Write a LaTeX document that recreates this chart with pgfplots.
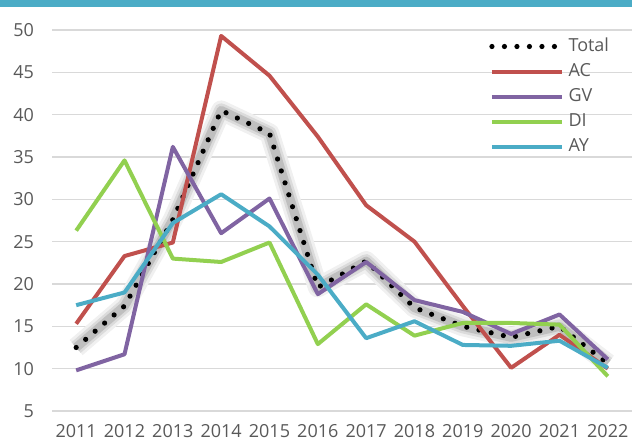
\documentclass[border=0pt]{standalone}
\usepackage{pgfplots}
\usepackage{pgfplotstable}
\pgfplotsset{compat=1.18}
\usepackage{fontspec}
\setmainfont{Open Sans}
\definecolor{acc}{HTML}{C0504D}
\definecolor{gvc}{HTML}{8064A2}
\definecolor{dic}{HTML}{92D050}
\definecolor{ayc}{HTML}{4BACC6}
\definecolor{txt}{HTML}{595959}
\definecolor{grd}{HTML}{D9D9D9}
\pgfplotstableread{
year Total AC GV DI AY
2011 12.5 15.3 9.8 26.3 17.5
2012 17.4 23.3 11.7 34.6 19.0
2013 27.6 24.9 36.2 23.0 27.2
2014 40.5 49.3 26.0 22.6 30.6
2015 37.8 44.6 30.1 24.9 26.8
2016 19.6 37.4 18.8 12.9 21.1
2017 22.7 29.3 22.6 17.6 13.6
2018 17.2 25.0 18.1 13.9 15.6
2019 15.0 17.4 16.7 15.4 12.8
2020 13.7 10.1 14.1 15.4 12.7
2021 15.0 14.0 16.4 15.2 13.3
2022 10.6 10.0 11.1 9.1 10.1
}\datatable
\begin{document}
\begin{tikzpicture}
\useasboundingbox (0,0) rectangle (316pt,219.5pt);
\fill[ayc] (0,216pt) rectangle (316pt,219.5pt);
\begin{axis}[
  at={(26pt,14pt)}, anchor=south west,
  scale only axis, width=290pt, height=190.5pt,
  xmin=2010.5, xmax=2022.5, ymin=5, ymax=50,
  xtick={2011,...,2022}, ytick={5,10,...,50},
  axis line style={draw=none},
  major tick length=0pt,
  ymajorgrids, grid style={grd, line width=0.7pt},
  tick label style={font=\fontsize{9}{10}\selectfont, text=txt},
  /pgf/number format/assume math mode=true,
  xticklabel style={/pgf/number format/1000 sep={}},
  yticklabel shift=5.5pt,
  xticklabel shift=3pt,
  legend style={at={(0.743,0.99)}, anchor=north west, draw=none, fill=none,
    font=\fontsize{9}{10}\selectfont, text=txt,
    nodes={inner sep=0pt, text height=6.5pt, text depth=1.8pt, anchor=west},
    row sep=4.2pt, column sep=2pt},
  legend cell align=left,
  legend image code/.code={\draw[#1] (0pt,0pt) -- (35pt,0pt);},
  every axis plot/.append style={line width=2pt, line join=round},
]
\addplot[black!6, line width=10pt, forget plot] table[x=year, y=Total] {\datatable};
\addplot[black!14, line width=7pt, forget plot] table[x=year, y=Total] {\datatable};
\addplot[black!25, line width=4.5pt, forget plot] table[x=year, y=Total] {\datatable};
\addplot[black, line width=2.6pt, line cap=round, dash pattern=on 0pt off 6.25pt] table[x=year, y=Total] {\datatable};
\addlegendentry{Total}
\addplot[acc] table[x=year, y=AC] {\datatable};
\addlegendentry{AC}
\addplot[gvc] table[x=year, y=GV] {\datatable};
\addlegendentry{GV}
\addplot[dic] table[x=year, y=DI] {\datatable};
\addlegendentry{DI}
\addplot[ayc] table[x=year, y=AY] {\datatable};
\addlegendentry{AY}
\end{axis}
\end{tikzpicture}
\end{document}
